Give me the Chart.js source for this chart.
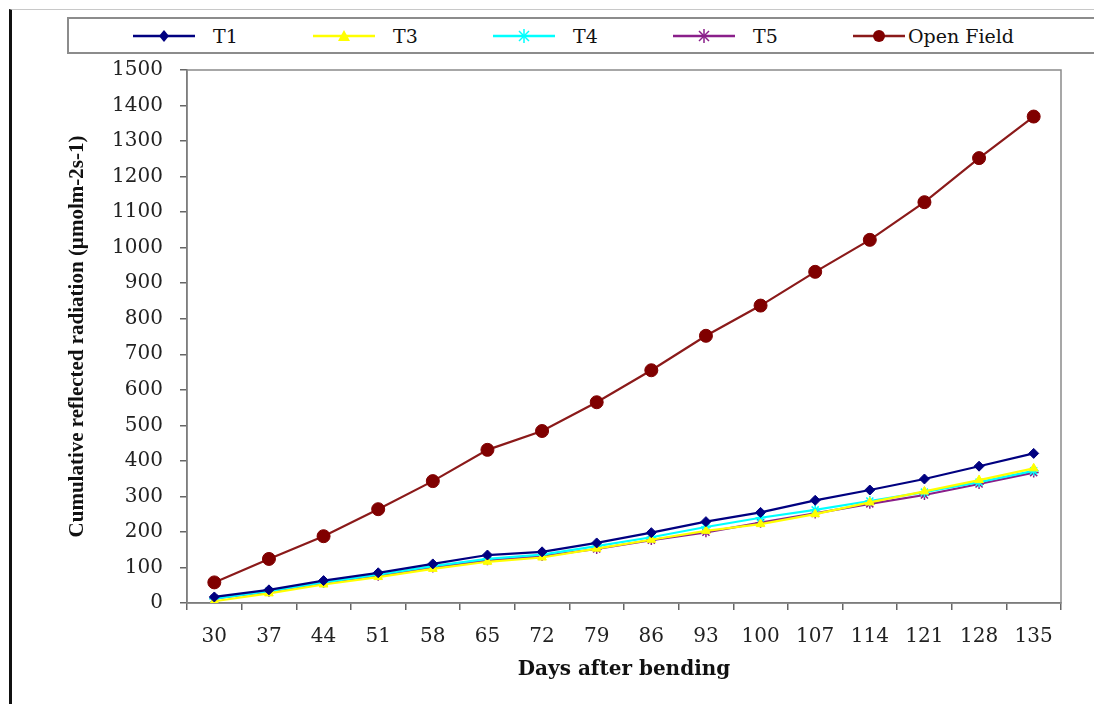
<!DOCTYPE html>
<html>
<head>
<meta charset="utf-8">
<script src="https://cdn.jsdelivr.net/npm/chart.js@4.4.1/dist/chart.umd.min.js"></script>
<style>
    html, body { margin: 0; padding: 0; background: #fff; }
    .page { position: relative; width: 1094px; height: 704px; overflow: hidden; }
    .scan-edge { position: absolute; left: 9px; top: 9px; right: 0; bottom: 0; border-left: 3px solid #111; border-top: 1px solid #c8c8c8; }
    #chart-box { position: absolute; left: 0; top: 0; width: 1094px; height: 704px; }
    #legend {
        position: absolute; left: 67px; top: 17px; width: 1060px; height: 37px;
        border: 2px solid #8c8c8c; background: #fff;
        display: flex; align-items: center; padding-left: 64px; box-sizing: border-box;
        font-family: "DejaVu Serif", serif; font-size: 19px; color: #111;
    }
    .legend-item { display: flex; align-items: center; width: 180px; }
    .legend-item span { margin-left: 18px; }
    .legend-item.last span { margin-left: 3px; }
</style>
</head>
<body>
<div class="page">
    <div class="scan-edge"></div>
    <div id="chart-box"><canvas id="chart" width="1094" height="704"></canvas></div>
    <div id="legend"></div>
</div>
<script>
const days = [30, 37, 44, 51, 58, 65, 72, 79, 86, 93, 100, 107, 114, 121, 128, 135];
const t1 = [17, 37, 63, 85, 110, 135, 144, 169, 198, 229, 255, 289, 318, 349, 385, 421];
const t3 = [5, 27, 52, 73, 96, 116, 128, 153, 178, 203, 222, 250, 283, 314, 346, 379];
const t4 = [12, 33, 58, 80, 104, 124, 136, 160, 185, 214, 240, 262, 287, 312, 340, 372];
const t5 = [13, 32, 57, 77, 100, 120, 132, 152, 177, 199, 226, 252, 279, 304, 335, 367];
const openField = [58, 124, 188, 264, 343, 431, 484, 565, 655, 752, 837, 932, 1022, 1128, 1252, 1369];
const yTicks = [0, 100, 200, 300, 400, 500, 600, 700, 800, 900, 1000, 1100, 1200, 1300, 1400, 1500];

const seriesStyles = [
    { label: 'T1', data: t1, line: '#000080', fill: '#000080', point: 'rectRot', radius: 5 },
    { label: 'T3', data: t3, line: '#ffff00', fill: '#ffff00', point: 'triangle', radius: 5 },
    { label: 'T4', data: t4, line: '#00ffff', fill: '#00ffff', point: 'star', radius: 5 },
    { label: 'T5', data: t5, line: '#8a1f8a', fill: '#8a1f8a', point: 'star', radius: 5 },
    { label: 'Open Field', data: openField, line: '#8b1a1a', fill: '#800000', point: 'circle', radius: 6.5 }
];

// little svg for legend: line with marker in the middle
function legendIcon(s, width) {
    const cx = width / 2, cy = 10;
    let marker = '';
    if (s.point === 'rectRot') {
        marker = `<polygon points="${cx},${cy - 6} ${cx + 5},${cy} ${cx},${cy + 6} ${cx - 5},${cy}" fill="${s.fill}"/>`;
    } else if (s.point === 'triangle') {
        marker = `<polygon points="${cx},${cy - 6} ${cx + 6},${cy + 5} ${cx - 6},${cy + 5}" fill="${s.fill}"/>`;
    } else if (s.point === 'star') {
        marker = `<g stroke="${s.fill}" stroke-width="1.5"><line x1="${cx - 5}" y1="${cy - 5}" x2="${cx + 5}" y2="${cy + 5}"/><line x1="${cx + 5}" y1="${cy - 5}" x2="${cx - 5}" y2="${cy + 5}"/><line x1="${cx}" y1="${cy - 7}" x2="${cx}" y2="${cy + 7}"/></g>`;
    } else {
        marker = `<circle cx="${cx}" cy="${cy}" r="6" fill="${s.fill}"/>`;
    }
    return `<svg width="${width}" height="20"><line x1="0" y1="${cy}" x2="${width}" y2="${cy}" stroke="${s.line}" stroke-width="2.5"/>${marker}</svg>`;
}

const legendEl = document.getElementById('legend');
seriesStyles.forEach((s, i) => {
    const last = i === seriesStyles.length - 1;
    const item = document.createElement('div');
    item.className = 'legend-item' + (last ? ' last' : '');
    item.innerHTML = legendIcon(s, last ? 52 : 62) + `<span>${s.label}</span>`;
    legendEl.appendChild(item);
});

// gray frame round the plot area (top and right sides show in the reference)
const plotFrame = {
    id: 'plotFrame',
    beforeDatasetsDraw(chart) {
        const { ctx, chartArea } = chart;
        ctx.save();
        ctx.strokeStyle = '#8a8a8a';
        ctx.lineWidth = 1.5;
        ctx.strokeRect(chartArea.left, chartArea.top, chartArea.right - chartArea.left, chartArea.bottom - chartArea.top);
        ctx.restore();
    }
};

const tickFont = { family: 'DejaVu Serif', size: 20 };

new Chart(document.getElementById('chart'), {
    type: 'line',
    data: {
        labels: days,
        datasets: seriesStyles.map(s => ({
            label: s.label,
            data: s.data,
            borderColor: s.line,
            backgroundColor: s.fill,
            pointBackgroundColor: s.fill,
            pointBorderColor: s.fill,
            pointBorderWidth: s.point === 'star' ? 1.5 : 1,
            pointStyle: s.point,
            pointRadius: s.radius,
            borderWidth: 2.2,
            tension: 0,
            fill: false
        }))
    },
    options: {
        responsive: false,
        animation: false,
        layout: { padding: { left: 62, top: 70, right: 33, bottom: 0 } },
        plugins: {
            legend: { display: false },
            tooltip: { enabled: false }
        },
        scales: {
            x: {
                offset: true,
                grid: { offset: true, drawOnChartArea: false, drawTicks: true, tickLength: 7, color: '#666', lineWidth: 1.5 },
                border: { color: '#555', width: 1.5 },
                ticks: { font: tickFont, color: '#222', padding: 15, maxRotation: 0, autoSkip: false },
                title: {
                    display: true,
                    text: 'Days after bending',
                    font: { family: 'DejaVu Serif', size: 20, weight: 'bold' },
                    color: '#111',
                    padding: { top: 4, bottom: 22 }
                },
                afterFit(scale) { scale.height = 101; }
            },
            y: {
                min: 0,
                max: 1500,
                afterBuildTicks(scale) { scale.ticks = yTicks.map(v => ({ value: v })); },
                grid: { drawOnChartArea: false, drawTicks: true, tickLength: 7, color: '#666', lineWidth: 1.5 },
                border: { color: '#555', width: 1.5 },
                ticks: { font: tickFont, color: '#222', padding: 17, callback: v => String(v) },
                title: {
                    display: true,
                    text: 'Cumulative reflected radiation (µmolm-2s-1)',
                    font: { family: 'Liberation Serif', size: 21, weight: 'bold' },
                    color: '#111',
                    padding: { top: 3, bottom: 4 }
                },
                afterFit(scale) { scale.width = 125; }
            }
        }
    },
    plugins: [plotFrame]
});
</script>
</body>
</html>
